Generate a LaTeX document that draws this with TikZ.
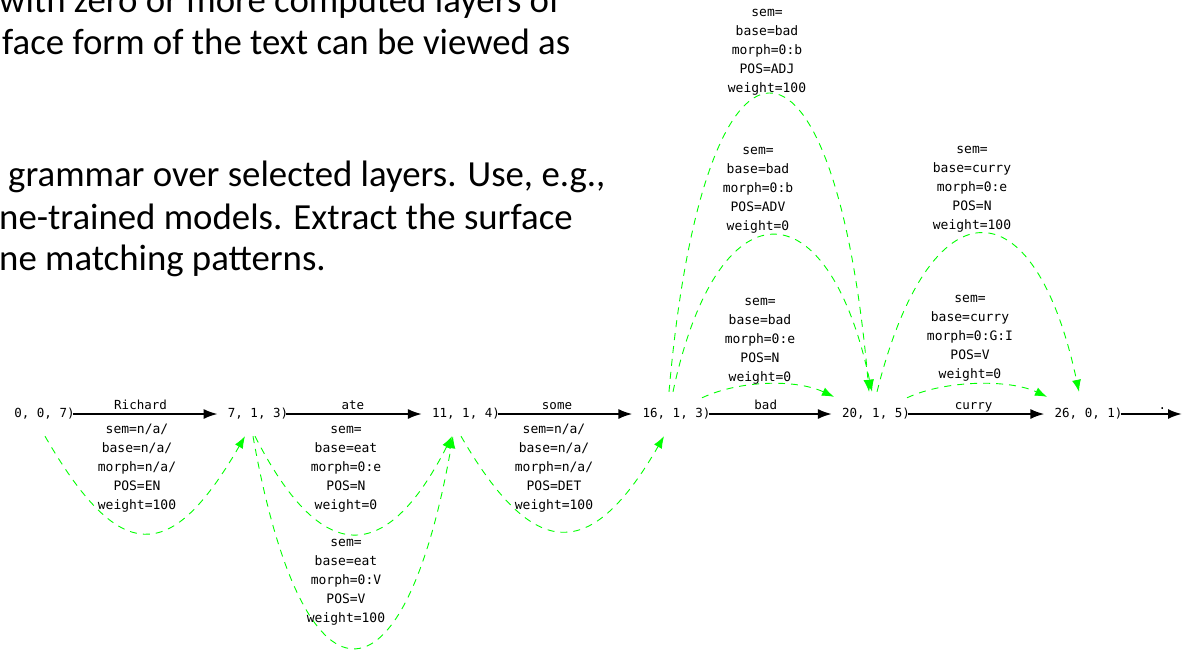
\documentclass[tikz,border=0pt]{standalone}
\usepackage{fontspec}
\setmainfont{Carlito}
\newfontfamily\latticemono{DejaVu Sans Mono}
\usetikzlibrary{arrows.meta}

\tikzset{
  lattice/.style={font=\latticemono\fontsize{12.5}{15}\selectfont, inner xsep=0pt, inner ysep=0pt, minimum height=44pt},
  token/.style={line width=2pt, -{Latex[length=14pt,width=10pt]}, shorten >=10pt, shorten <=-2pt},
  tokenlabel/.style={font=\latticemono\fontsize{12.5}{15}\selectfont, above=4pt, inner sep=0pt, text depth=0pt},
  reading/.style={green, line width=0.9pt, dash pattern=on 7pt off 6pt, -{Latex[length=12pt,width=9pt]}},
  feats/.style={font=\latticemono\fontsize{13}{19}\selectfont, align=center, anchor=north, inner sep=0pt},
  slide/.style={font=\fontsize{36.8}{42}\selectfont, anchor=base west, inner sep=0pt},
}

\begin{document}
\begin{tikzpicture}[x=1pt,y=-1pt]
\useasboundingbox (0,0) rectangle (1182,650);
\fill[white] (0,0) rectangle (1182,650);

% slide text behind the lattice
\node[slide] (t1) at (-1,13) {with zero or more computed layers of};
\node[slide] (t2) at (2,55) {face form of the text can be viewed as};
\node[slide] (t3) at (8,186) {grammar over selected layers. Use, e.g.,};
\node[slide] (t4) at (-1,229) {ne-trained models. Extract the surface};
\node[slide] (t5) at (-1,270) {ne matching patterns.};

% lattice states
\node[lattice] (p0) at (44.5,414) {0, 0, 7)};
\node[lattice] (p7) at (258,414) {7, 1, 3)};
\node[lattice] (p11) at (466,414) {11, 1, 4)};
\node[lattice] (p16) at (676.5,414) {16, 1, 3)};
\node[lattice] (p20) at (876,414) {20, 1, 5)};
\node[lattice] (p26) at (1088.5,414) {26, 0, 1)};
\coordinate (pend) at (1182,414);

% surface tokens
\draw[token] (p0.east) -- (p7.west) node[tokenlabel, pos=.43] (w1) {Richard};
\draw[token] (p7.east) -- (p11.west) node[tokenlabel, pos=.45] (w2) {ate};
\draw[token] (p11.east) -- (p16.west) node[tokenlabel, pos=.40] (w3) {some};
\draw[token] (p16.east) -- (p20.west) node[tokenlabel, pos=.42] (w4) {bad};
\draw[token] (p20.east) -- (p26.west) node[tokenlabel, pos=.44] (w5) {curry};
\draw[token, shorten >=0pt] (p26.east) -- (pend) node[tokenlabel, pos=.67] (w6) {.};

% analyses
\draw[reading] ([shift={(0.5,0)}]p0.south) to[out=-60,in=-120,distance=149pt] ([shift={(-13,0)}]p7.south);
\draw[reading] ([shift={(-3,0)}]p7.south) to[out=-63,in=-117,distance=146pt] ([shift={(-14,0)}]p11.south);
\draw[reading] ([shift={(-5,0)}]p7.south) to[out=-80,in=-100,distance=286pt] ([shift={(-13,0)}]p11.south);
\draw[reading] ([shift={(-5,0)}]p11.south) to[out=-60,in=-120,distance=146pt] ([shift={(-12.5,0)}]p16.south);
\draw[reading] ([shift={(-7.5,0)}]p16.north) to[out=85,in=95,distance=398pt] ([shift={(-7,0)}]p20.north);
\draw[reading] ([shift={(-3.5,0)}]p16.north) to[out=78,in=102,distance=213pt] ([shift={(-4,0)}]p20.north);
\draw[reading] ([shift={(25.5,6)}]p16.north) to[out=25,in=155,distance=42pt] ([shift={(-42,5)}]p20.north);
\draw[reading] ([shift={(1,0)}]p20.north) to[out=76,in=102,distance=216pt] ([shift={(-9.5,0)}]p26.north);
\draw[reading] ([shift={(31,6)}]p20.north) to[out=25,in=155,distance=42pt] ([shift={(-41.5,5)}]p26.north);

% feature bundles
\node[feats] (f1) at (137,420) {\strut sem=n/a/\\base=n/a/\\morph=n/a/\\POS=EN\\weight=100};
\node[feats] (f2) at (346,420) {\strut sem=\\base=eat\\morph=0:e\\POS=N\\weight=0};
\node[feats] (f3) at (346,533) {\strut sem=\\base=eat\\morph=0:V\\POS=V\\weight=100};
\node[feats] (f4) at (554,420) {\strut sem=n/a/\\base=n/a/\\morph=n/a/\\POS=DET\\weight=100};
\node[feats] (f5) at (767,3) {\strut sem=\\base=bad\\morph=0:b\\POS=ADJ\\weight=100};
\node[feats] (f6) at (758,141) {\strut sem=\\base=bad\\morph=0:b\\POS=ADV\\weight=0};
\node[feats] (f7) at (760,292) {\strut sem=\\base=bad\\morph=0:e\\POS=N\\weight=0};
\node[feats] (f8) at (972,140) {\strut sem=\\base=curry\\morph=0:e\\POS=N\\weight=100};
\node[feats] (f9) at (970,289) {\strut sem=\\base=curry\\morph=0:G:I\\POS=V\\weight=0};
\end{tikzpicture}
\end{document}
